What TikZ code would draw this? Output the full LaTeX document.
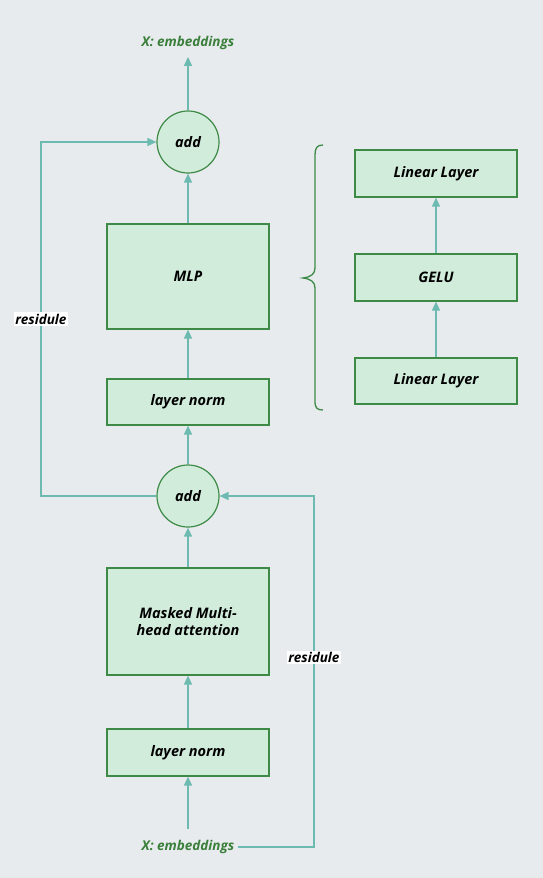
\documentclass[tikz,border=0pt]{standalone}
\usepackage{fontspec}
\setmainfont{Open Sans}
\usetikzlibrary{arrows.meta}
\definecolor{bgc}{HTML}{E8EBEE}
\definecolor{boxfill}{HTML}{D2ECDC}
\definecolor{boxline}{HTML}{3C8A46}
\definecolor{arrc}{HTML}{6CBAB0}
\definecolor{lblc}{HTML}{3A7F3A}
\tikzset{
  blk/.style={draw=boxline, fill=boxfill, line width=1.2pt, minimum width=162pt, inner sep=0pt, align=center,
    font=\fontsize{14.5}{17}\selectfont\bfseries\itshape},
  addc/.style={circle, draw=boxline, fill=boxfill, line width=1.2pt, minimum size=62pt, inner sep=0pt,
    font=\fontsize{14.5}{17}\selectfont\bfseries\itshape},
  xlbl/.style={text=lblc, inner sep=3pt, font=\fontsize{13.5}{16}\selectfont\bfseries\itshape},
  conn/.style={draw=arrc, line width=1.5pt, -{Triangle[width=8pt,length=9pt]}},
  rlbl/.style={fill=white, inner sep=1.5pt, font=\fontsize{13.5}{16}\selectfont\bfseries\itshape},
}
\begin{document}
\begin{tikzpicture}[x=1pt,y=-1pt]
\useasboundingbox[fill=bgc] (0,0) rectangle (543,878);
% left column
\node[xlbl] (xtop) at (188,43) {X: embeddings};
\node[addc] (add2) at (188,142) {add};
\node[blk, minimum height=105pt] (mlp) at (188,276.5) {MLP};
\node[blk, minimum height=46pt] (ln2) at (188,402) {layer norm};
\node[addc] (add1) at (188,496) {add};
\node[blk, minimum height=107pt] (mha) at (188,621.5) {Masked Multi-\\head attention};
\node[blk, minimum height=47pt] (ln1) at (188,752.5) {layer norm};
\node[xlbl] (xbot) at (188,847) {X: embeddings};
% right column
\node[blk, minimum height=47pt] (lin2) at (436,173.5) {Linear Layer};
\node[blk, minimum height=47pt] (gelu) at (436,277.5) {GELU};
\node[blk, minimum height=46pt] (lin1) at (436,381) {Linear Layer};
% connectors
\draw[conn, shorten <=8pt] (xbot.north) -- (ln1.south);
\draw[conn] (ln1.north) -- (mha.south);
\draw[conn] (mha.north) -- (add1.south);
\draw[conn] (add1.north) -- (ln2.south);
\draw[conn] (ln2.north) -- (mlp.south);
\draw[conn] (mlp.north) -- (add2.south);
\draw[conn, shorten >=4pt] (add2.north) -- (xtop.south);
\draw[conn] (xbot.east) -- (314,847) -- node[rlbl, pos=0.54] {residule} (314,496) -- (add1.east);
\draw[conn] (add1.west) -- (41,496) -- node[rlbl, pos=0.5] {residule} (41,142) -- (add2.west);
\draw[conn] (lin1.north) -- (gelu.south);
\draw[conn] (gelu.north) -- (lin2.south);
% brace
\draw[boxline, line width=1.3pt] (323,145) .. controls (317,145) and (315,148) .. (315,155) -- (315,268)
  .. controls (315,274) and (311,277) .. (303,278) .. controls (311,279) and (315,282) .. (315,288)
  -- (315,401) .. controls (315,408) and (317,410) .. (323,410);
\end{tikzpicture}
\end{document}
